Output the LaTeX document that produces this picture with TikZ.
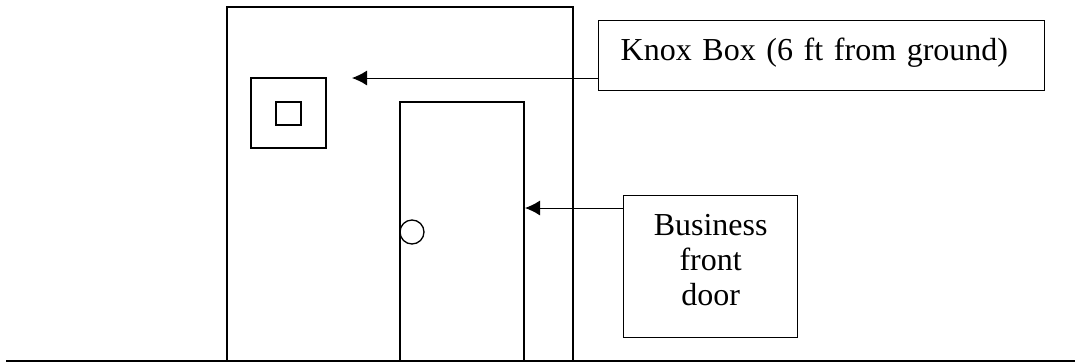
\documentclass[tikz,border=0pt]{standalone}
\usepackage{fontspec}
\setmainfont{Liberation Serif}
\usepackage{tikz}
\usetikzlibrary{positioning}
\usetikzlibrary{arrows.meta}

\begin{document}
\begin{tikzpicture}[x=1pt, y=-1pt, line width=1.3pt,
    every node/.style={font=\fontsize{32}{35}\selectfont},
    labelbox/.style={draw, anchor=north west, inner ysep=0pt},
    pointer/.style={-{Latex[length=15pt, width=15pt]}, line width=1pt}]
\useasboundingbox (0,0) rectangle (1075,362);

% Ground and building
\draw (6,361) -- (1075,361);
\draw (227,361) -- (227,7) -- (573,7) -- (573,361);

% Knox box
\draw (251,78) rectangle (326,148);
\draw (276,102) rectangle (301,125);

% Door
\draw (400,361) -- (400,102) -- (524,102) -- (524,361);
\draw (412,232) circle[radius=12pt];

% Labels
\node[labelbox, text width=402pt, inner xsep=22pt, align=left,
      text height=40pt, text depth=30pt] (knox) at (598,20) {Knox Box (6 ft from ground)};
\node[labelbox, minimum width=174pt, minimum height=142pt, align=center,
      text depth=14pt] (door) at (623,195) {Business\\front\\door};

\coordinate (knoxtip) at (352,78);
\coordinate (doortip) at (525,208);
\draw[pointer] (knox.west |- knoxtip) -- (knoxtip);
\draw[pointer] (door.west |- doortip) -- (doortip);
\end{tikzpicture}
\end{document}
